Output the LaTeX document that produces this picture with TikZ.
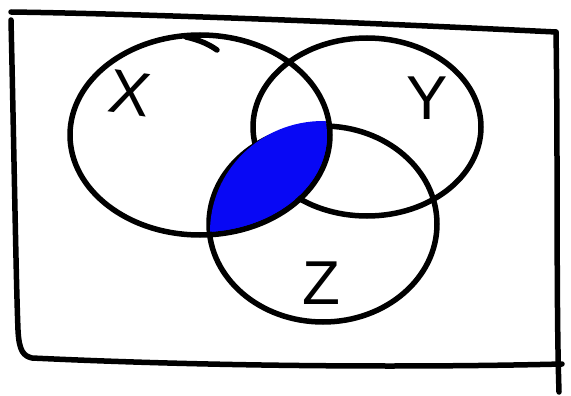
\documentclass[tikz,border=0pt]{standalone}
\usepackage{fontspec}
\setmainfont{Liberation Sans}
\definecolor{fillblue}{RGB}{8,8,245}
\begin{document}
\begin{tikzpicture}[x=1pt,y=-1pt,
  ink/.style={line width=5.5pt, line cap=round, line join=round, black},
  lbl/.style={font=\fontsize{62}{62}\selectfont, inner sep=0pt}]
\useasboundingbox (0,0) rectangle (571,396);
% frame
\draw[ink] (11,12) .. controls (150,14) and (350,22) .. (556,32);
\draw[ink] (556,32) .. controls (558,150) and (556,300) .. (559,392);
\draw[ink] (11,20) .. controls (14,150) and (16,280) .. (18,330) .. controls (19,352) and (24,356) .. (32,358)
  .. controls (200,366) and (400,368) .. (562,364);
% blue region X ∩ Z
\begin{scope}
  \clip (200,135) ellipse [x radius=130pt, y radius=100pt];
  \fill[fillblue] (323,224) ellipse [x radius=114pt, y radius=98pt];
\end{scope}
% circles
\draw[ink] (200,135) ellipse [x radius=130pt, y radius=100pt];
\draw[ink] (367,127) ellipse [x radius=114pt, y radius=89pt];
\draw[ink] (323,224) ellipse [x radius=114pt, y radius=98pt];
% hand-drawn overlap at the top of X
\draw[ink] (186,37) .. controls (200,40) and (210,45) .. (217,50);
% blue over Z top and Y arc inside region
\begin{scope}
  \clip (200,135) ellipse [x radius=127pt, y radius=97pt];
  \fill[fillblue] (323,232) ellipse [x radius=113pt, y radius=111pt];
\end{scope}
% labels
\node[lbl, rotate=-8] (x) at (130,93) {X};
\node[lbl] (y) at (427,98) {Y};
\node[lbl] (z) at (321,283) {Z};
\end{tikzpicture}
\end{document}
